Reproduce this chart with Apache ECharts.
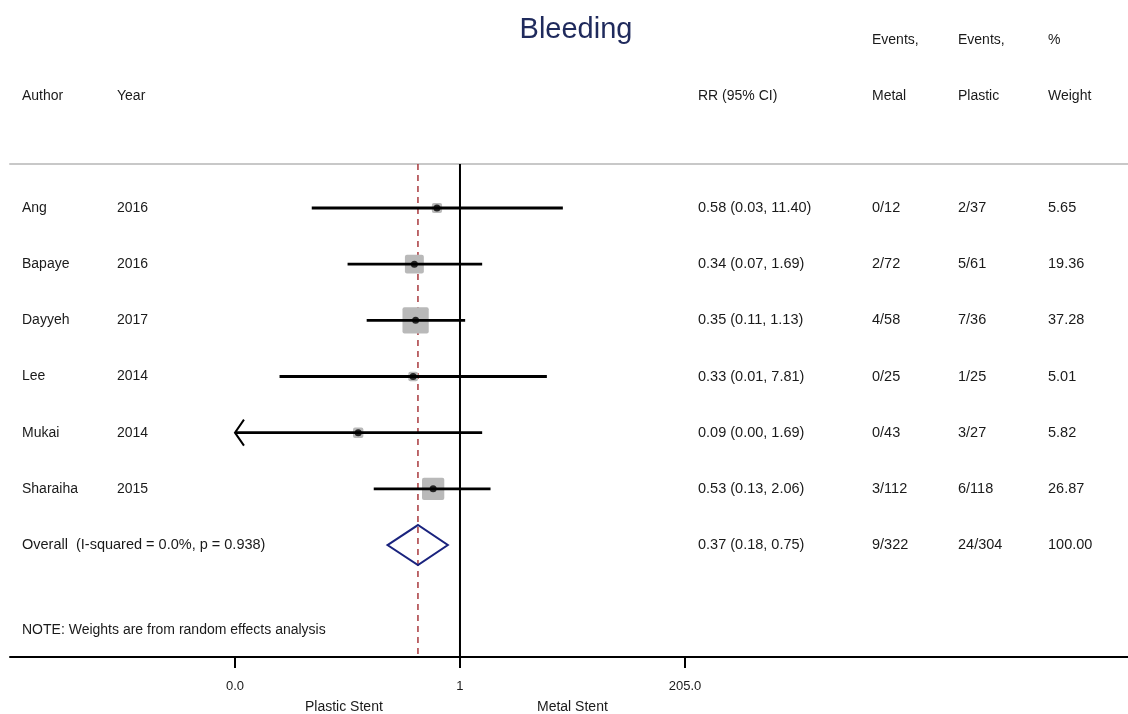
<!DOCTYPE html>
<html>
<head>
<meta charset="utf-8">
<script src="https://cdn.jsdelivr.net/npm/echarts@6/dist/echarts.min.js"></script>
<style>
html,body{margin:0;padding:0;background:#fff;}
#chart{width:1128px;height:714px;}
</style>
</head>
<body>
<div id="chart"></div>
<script>
// ---- data ----
const authors = ['Ang', 'Bapaye', 'Dayyeh', 'Lee', 'Mukai', 'Sharaiha'];
const years = ['2016', '2016', '2017', '2014', '2014', '2015'];
const rr = [0.58, 0.34, 0.35, 0.33, 0.09, 0.53];
const ciLow = [0.03, 0.07, 0.11, 0.014, 0.002, 0.13];
const ciHigh = [11.40, 1.69, 1.13, 7.81, 1.69, 2.06];
const rrLabels = ['0.58 (0.03, 11.40)', '0.34 (0.07, 1.69)', '0.35 (0.11, 1.13)', '0.33 (0.01, 7.81)', '0.09 (0.00, 1.69)', '0.53 (0.13, 2.06)'];
const eventsMetal = ['0/12', '2/72', '4/58', '0/25', '0/43', '3/112'];
const eventsPlastic = ['2/37', '5/61', '7/36', '1/25', '3/27', '6/118'];
const weights = [5.65, 19.36, 37.28, 5.01, 5.82, 26.87];
const weightLabels = ['5.65', '19.36', '37.28', '5.01', '5.82', '26.87'];
const overallRR = 0.37, overallLow = 0.18, overallHigh = 0.75;
const overallLabels = ['Overall  (I-squared = 0.0%, p = 0.938)', '0.37 (0.18, 0.75)', '9/322', '24/304', '100.00'];
const tickValues = [1 / 205, 1, 205];
const tickLabels = ['0.0', '1', '205.0'];

// ---- helpers ----
const L = v => Math.log10(v);
const axisMinLog = L(tickValues[0]);
const FONT = 'Liberation Sans, Arial, sans-serif';
const TXT = '#1a1a1a';
const nRows = authors.length;
const overallRow = nRows;
const noteRow = 7.51;

// text column positions (pixel-like domain of hidden secondary axis)
const colX = {author: 22, year: 117, rr: 698, metal: 872, plastic: 958, weight: 1048};

const textData = [];
for (let i = 0; i < nRows; i++) {
  textData.push([colX.author, i, authors[i], 14]);
  textData.push([colX.year, i, years[i], 14]);
  textData.push([colX.rr, i, rrLabels[i], 14.5]);
  textData.push([colX.metal, i, eventsMetal[i], 14.5]);
  textData.push([colX.plastic, i, eventsPlastic[i], 14.5]);
  textData.push([colX.weight, i, weightLabels[i], 14.5]);
}
textData.push([colX.author, overallRow, overallLabels[0], 14.5]);
textData.push([colX.rr, overallRow, overallLabels[1], 14.5]);
textData.push([colX.metal, overallRow, overallLabels[2], 14.5]);
textData.push([colX.plastic, overallRow, overallLabels[3], 14.5]);
textData.push([colX.weight, overallRow, overallLabels[4], 14.5]);
textData.push([colX.author, noteRow, 'NOTE: Weights are from random effects analysis', 14]);

const ciData = rr.map((v, i) => [L(ciLow[i]), L(ciHigh[i]), i]);
const sqData = rr.map((v, i) => [L(v), i, weights[i]]);
const dotData = rr.map((v, i) => [L(v), i]);

const chart = echarts.init(document.getElementById('chart'), null, {renderer: 'canvas'});
const yMin = -0.783, yMax = 7.993;
const hdr = (x, y, t) => ({type: 'text', left: x, top: y, style: {text: t, font: '14px ' + FONT, fill: TXT}});

const option = {
  backgroundColor: '#fff',
  animation: false,
  title: {
    text: 'Bleeding', left: 571, top: 10, textAlign: 'center',
    textStyle: {fontFamily: FONT, fontSize: 29, fontWeight: 'normal', color: '#1f2a5c'}
  },
  graphic: [
    hdr(872, 33, 'Events,'), hdr(958, 33, 'Events,'), hdr(1048, 33, '%'),
    hdr(22, 89, 'Author'), hdr(117, 89, 'Year'), hdr(698, 89, 'RR (95% CI)'),
    hdr(872, 89, 'Metal'), hdr(958, 89, 'Plastic'), hdr(1048, 89, 'Weight'),
    hdr(305, 700, 'Plastic Stent'), hdr(537, 700, 'Metal Stent')
  ],
  grid: {left: 10, right: 0, top: 164, bottom: 57, containLabel: false},
  xAxis: [
    {
      type: 'value', min: -4.623, max: 6.863, position: 'bottom',
      axisLine: {show: true, onZero: false, lineStyle: {color: '#000', width: 2}},
      axisTick: {show: true, customValues: tickValues.map(L), length: 11, lineStyle: {color: '#000', width: 2}},
      axisLabel: {
        show: true, customValues: tickValues.map(L), margin: 23,
        fontFamily: FONT, fontSize: 13, color: TXT,
        formatter: v => {
          let best = 0;
          tickValues.forEach((t, i) => { if (Math.abs(L(t) - v) < Math.abs(L(tickValues[best]) - v)) best = i; });
          return tickLabels[best];
        }
      },
      splitLine: {show: false}
    },
    {
      type: 'value', min: 10, max: 1128, position: 'top',
      axisLine: {show: true, onZero: false, lineStyle: {color: '#c8c8c8', width: 2}},
      axisTick: {show: false}, axisLabel: {show: false}, splitLine: {show: false}
    }
  ],
  yAxis: {type: 'value', inverse: true, min: yMin, max: yMax, show: false},
  series: [
    // null line at RR = 1
    {
      type: 'line', xAxisIndex: 0, data: [[L(1), yMin], [L(1), yMax]], symbol: 'none',
      lineStyle: {color: '#000', width: 2}, z: 2
    },
    // overall estimate dashed line
    {
      type: 'line', xAxisIndex: 0, data: [[L(overallRR), yMin], [L(overallRR), yMax]], symbol: 'none',
      lineStyle: {color: '#a8383c', width: 1.5, type: [6, 5]}, z: 3
    },
    // gray weight squares
    {
      type: 'custom', xAxisIndex: 0, data: sqData, encode: {x: 0, y: 1}, z: 4,
      renderItem: (params, api) => {
        const p = api.coord([api.value(0), api.value(1)]);
        const s = 4.3 * Math.sqrt(api.value(2));
        return {type: 'rect', shape: {x: p[0] - s / 2, y: p[1] - s / 2, width: s, height: s, r: 2},
          style: {fill: '#b9b9b9'}};
      }
    },
    // CI lines
    {
      type: 'custom', xAxisIndex: 0, data: ciData, encode: {x: [0, 1], y: 2}, z: 5,
      renderItem: (params, api) => {
        const lo = api.value(0), hi = api.value(1), row = api.value(2);
        const clipped = lo < axisMinLog;
        const a = api.coord([Math.max(lo, axisMinLog), row]);
        const b = api.coord([hi, row]);
        const children = [{type: 'line', shape: {x1: a[0], y1: a[1], x2: b[0], y2: b[1]},
          style: {stroke: '#000', lineWidth: 2.8}}];
        if (clipped) {
          children.push({type: 'polyline', shape: {points: [[a[0] + 9, a[1] - 13], [a[0], a[1]], [a[0] + 9, a[1] + 13]]},
            style: {stroke: '#000', lineWidth: 2, fill: null}});
        }
        return {type: 'group', children};
      }
    },
    // point estimate dots
    {
      type: 'scatter', xAxisIndex: 0, data: dotData, symbol: 'circle', symbolSize: 7,
      itemStyle: {color: '#000'}, z: 6
    },
    // overall diamond
    {
      type: 'custom', xAxisIndex: 0, data: [[L(overallLow), L(overallRR), L(overallHigh), overallRow]],
      encode: {x: [0, 1, 2], y: 3}, z: 6,
      renderItem: (params, api) => {
        const row = api.value(3);
        const l = api.coord([api.value(0), row]);
        const c = api.coord([api.value(1), row]);
        const r = api.coord([api.value(2), row]);
        const h = 20;
        return {type: 'polygon', shape: {points: [[l[0], l[1]], [c[0], c[1] - h], [r[0], r[1]], [c[0], c[1] + h]]},
          style: {fill: 'rgba(0,0,0,0)', stroke: '#1a237e', lineWidth: 2}};
      }
    },
    // text columns
    {
      type: 'custom', xAxisIndex: 1, data: textData, encode: {x: 0, y: 1}, z: 7,
      renderItem: (params, api) => {
        const p = api.coord([api.value(0), api.value(1)]);
        const d = textData[params.dataIndex];
        return {type: 'text', x: p[0], y: p[1],
          style: {text: d[2], font: d[3] + 'px ' + FONT, fill: TXT, verticalAlign: 'middle', align: 'left'}};
      }
    }
  ]
};
chart.setOption(option);
</script>
</body>
</html>
